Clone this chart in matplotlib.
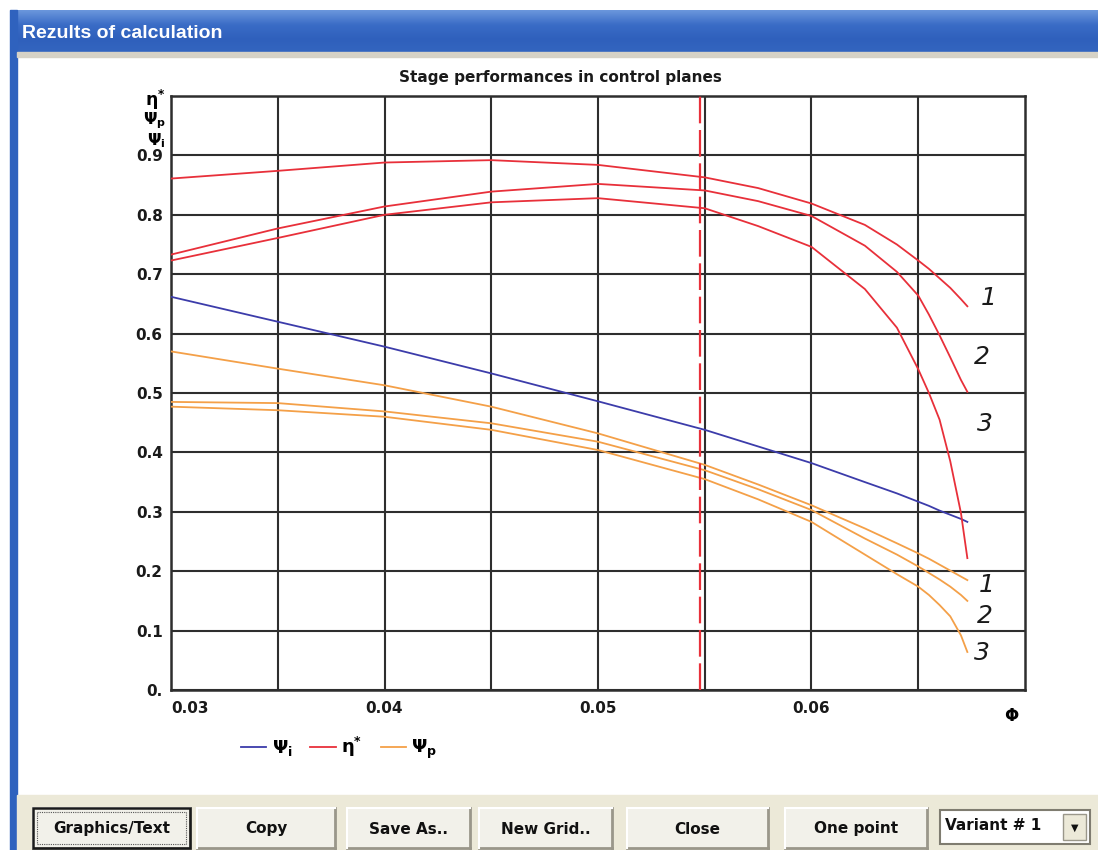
import numpy as np
import matplotlib
matplotlib.use('Agg')
import matplotlib.pyplot as plt
from matplotlib.patches import Rectangle

# flow coefficient (x axis)
phi = [0.030, 0.035, 0.040, 0.045, 0.050, 0.055, 0.0575, 0.060,
       0.0625, 0.064, 0.065, 0.0655, 0.066, 0.0665, 0.067, 0.0673]

# efficiency eta* in three control planes
eta_1 = [0.861, 0.874, 0.888, 0.892, 0.884, 0.863, 0.845, 0.819,
         0.783, 0.750, 0.723, 0.709, 0.693, 0.677, 0.658, 0.646]
eta_2 = [0.733, 0.777, 0.814, 0.839, 0.852, 0.841, 0.823, 0.798,
         0.748, 0.704, 0.664, 0.632, 0.597, 0.560, 0.522, 0.502]
eta_3 = [0.723, 0.761, 0.800, 0.821, 0.828, 0.811, 0.781, 0.746,
         0.675, 0.610, 0.540, 0.500, 0.455, 0.385, 0.298, 0.222]

# work coefficient psi_i
psi_i = [0.662, 0.620, 0.578, 0.533, 0.486, 0.438, 0.410, 0.382,
         0.350, 0.331, 0.317, 0.310, 0.302, 0.295, 0.288, 0.283]

# polytropic head coefficient psi_p in three control planes
psi_p_1 = [0.570, 0.541, 0.513, 0.477, 0.432, 0.379, 0.346, 0.311,
           0.272, 0.247, 0.230, 0.221, 0.211, 0.201, 0.191, 0.185]
psi_p_2 = [0.485, 0.483, 0.469, 0.449, 0.418, 0.370, 0.338, 0.303,
           0.255, 0.228, 0.208, 0.197, 0.186, 0.174, 0.160, 0.150]
psi_p_3 = [0.477, 0.471, 0.460, 0.438, 0.404, 0.355, 0.321, 0.283,
           0.228, 0.195, 0.174, 0.160, 0.143, 0.124, 0.092, 0.064]

design_phi = 0.0548

x_ticks = [0.03, 0.04, 0.05, 0.06]
x_tick_labels = ['0.03', '0.04', '0.05', '0.06']
y_ticks = [0.0, 0.1, 0.2, 0.3, 0.4, 0.5, 0.6, 0.7, 0.8, 0.9]
y_tick_labels = ['0.', '0.1', '0.2', '0.3', '0.4', '0.5', '0.6', '0.7', '0.8', '0.9']

# curve numbers (text, x, y)
eta_numbers = [('1', 0.0683, 0.660), ('2', 0.0680, 0.561), ('3', 0.0681, 0.448)]
psi_numbers = [('1', 0.0682, 0.176), ('2', 0.0681, 0.125), ('3', 0.0680, 0.062)]

buttons = ['Graphics/Text', 'Copy', 'Save As..', 'New Grid..', 'Close', 'One point']
button_x = [(33, 190), (197, 335), (347, 470), (479, 612), (627, 768), (785, 927)]

RED = '#e8303a'
BLUE = '#3c3caa'
ORANGE = '#f4a048'
GRID = '#2e2e2e'

W, H = 1098, 850
fig = plt.figure(figsize=(W / 100, H / 100), dpi=100)
fig.patch.set_facecolor('white')
plt.rcParams['mathtext.fontset'] = 'dejavusans'

# window chrome drawn in pixel coordinates
ch = fig.add_axes([0, 0, 1, 1])
ch.set_xlim(0, W)
ch.set_ylim(H, 0)
ch.axis('off')

grad = np.linspace(0, 1, 50).reshape(-1, 1)
tb_cmap = matplotlib.colors.LinearSegmentedColormap.from_list(
    'tb', ['#6a96dc', '#3a6cc6', '#2f60bc', '#3466c0'])
ch.imshow(grad, extent=(10, W, 54, 10), cmap=tb_cmap, aspect='auto', zorder=1)
ch.add_patch(Rectangle((10, 10), 7, H - 10, color='#2f62be', zorder=2))
ch.add_patch(Rectangle((17, 52), W - 17, 5, color='#d6d2c6', zorder=2))
ch.add_patch(Rectangle((17, 795), W - 17, H - 795, color='#ece9d8', zorder=2))
ch.text(22, 33, 'Rezults of calculation', color='white', fontsize=14,
        fontweight='bold', family='Liberation Sans', va='center', ha='left', zorder=3)
ch.set_xlim(0, W)
ch.set_ylim(H, 0)

for i, (lab, (x0, x1)) in enumerate(zip(buttons, button_x)):
    y0, y1 = 808, 848
    ch.add_patch(Rectangle((x0, y0), x1 - x0, y1 - y0, facecolor='#f2f1ea',
                           edgecolor='none', zorder=3))
    ch.plot([x0, x1], [y1, y1], color='#9a978a', lw=2, zorder=4)
    ch.plot([x1, x1], [y0, y1], color='#9a978a', lw=2, zorder=4)
    ch.plot([x0, x1], [y0, y0], color='white', lw=1.5, zorder=4)
    ch.plot([x0, x0], [y0, y1], color='white', lw=1.5, zorder=4)
    if i == 0:
        ch.add_patch(Rectangle((x0, y0), x1 - x0, y1 - y0, facecolor='none',
                               edgecolor='#1a1a1a', lw=1.8, zorder=5))
        ch.add_patch(Rectangle((x0 + 4, y0 + 4), x1 - x0 - 8, y1 - y0 - 8,
                               facecolor='none', edgecolor='#555555', lw=0.8,
                               ls=(0, (1, 1)), zorder=5))
    ch.text((x0 + x1) / 2, (y0 + y1) / 2 + 1, lab, fontsize=11, fontweight='bold',
            ha='center', va='center', color='#111111', zorder=6)

# combo box
ch.add_patch(Rectangle((940, 810), 150, 34, facecolor='white', edgecolor='#7f7c70',
                       lw=1.5, zorder=3))
ch.add_patch(Rectangle((1063, 814), 23, 26, facecolor='#ece9d8', edgecolor='#9a978a',
                       lw=1, zorder=4))
ch.text(945, 825, 'Variant # 1', fontsize=11, fontweight='bold', ha='left',
        va='center', color='#111111', zorder=5)
ch.text(1075, 828, '\u25bc', fontsize=7, ha='center', va='center', color='#111111', zorder=5)

# main chart
ax = fig.add_axes([171 / W, 1 - 690 / H, (1025 - 171) / W, (690 - 96) / H])
ax.set_xlim(0.03, 0.07)
ax.set_ylim(0, 1.0)

l_psi_i, = ax.plot(phi, psi_i, color=BLUE, lw=1.3, zorder=3)
l_eta, = ax.plot(phi, eta_1, color=RED, lw=1.3, zorder=3)
ax.plot(phi, eta_2, color=RED, lw=1.3, zorder=3)
ax.plot(phi, eta_3, color=RED, lw=1.3, zorder=3)
l_psi_p, = ax.plot(phi, psi_p_1, color=ORANGE, lw=1.3, zorder=3)
ax.plot(phi, psi_p_2, color=ORANGE, lw=1.3, zorder=3)
ax.plot(phi, psi_p_3, color=ORANGE, lw=1.3, zorder=3)
ax.axvline(design_phi, color=RED, lw=1.6, dashes=(12, 3), zorder=4)

ax.set_xticks(x_ticks)
ax.set_xticklabels(x_tick_labels)
ax.set_xticks([0.035, 0.045, 0.055, 0.065], minor=True)
ax.set_yticks(y_ticks)
ax.set_yticklabels(y_tick_labels)
ax.grid(True, which='both', color=GRID, lw=1.5, zorder=1)
ax.tick_params(which='both', length=0)
ax.tick_params(axis='x', pad=8)
ax.tick_params(axis='y', pad=6)
for t in ax.get_xticklabels() + ax.get_yticklabels():
    t.set_fontweight('bold')
    t.set_fontsize(11)
    t.set_color('#1a1a1a')
ax.get_xticklabels()[0].set_ha('left')
for s in ax.spines.values():
    s.set_color(GRID)
    s.set_linewidth(1.8)

for txt, x, y in eta_numbers + psi_numbers:
    ax.text(x, y, txt, fontsize=18, style='italic', ha='center', va='center',
            color='#1a1a1a')

ax.set_title('Stage performances in control planes', fontsize=11, fontweight='bold',
             pad=10, color='#1a1a1a', x=(560 - 171) / (1025 - 171))

fig.text(166 / W, 1 - 100 / H, r'$\mathbf{\eta^{*}}$', fontsize=12.5, ha='right', va='center')
fig.text(166 / W, 1 - 121 / H, r'$\mathbf{\Psi_{p}}$', fontsize=11.5, ha='right', va='center')
fig.text(166 / W, 1 - 141 / H, r'$\mathbf{\Psi_{i}}$', fontsize=11.5, ha='right', va='center')
fig.text(1012 / W, 1 - 716 / H, r'$\mathbf{\Phi}$', fontsize=12, ha='center', va='center')

fig.legend([l_psi_i, l_eta, l_psi_p],
           [r'$\mathbf{\Psi_{i}}$', r'$\mathbf{\eta^{*}}$', r'$\mathbf{\Psi_{p}}$'],
           loc='upper left', bbox_to_anchor=(232 / W, 1 - 726 / H), ncol=3,
           frameon=False, fontsize=13, handlelength=1.4, handletextpad=0.3,
           columnspacing=1.0, borderpad=0)

fig.savefig('out.png', dpi=100)
